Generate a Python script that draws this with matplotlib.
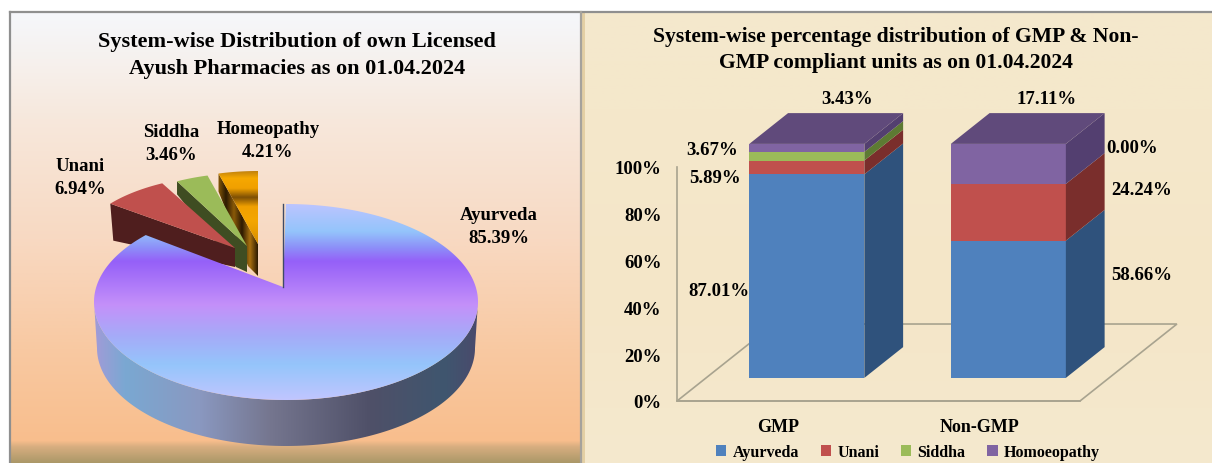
import numpy as np
import matplotlib
matplotlib.use("Agg")
import matplotlib.pyplot as plt
from matplotlib.colors import LinearSegmentedColormap
from matplotlib.patches import Polygon, Patch

plt.rcParams["font.family"] = ["Liberation Serif", "DejaVu Serif"]
plt.rcParams["font.weight"] = "bold"

W, H = 1212, 464

# ─── Data ─────────────────────────────────────────────────────────────────────
pie_labels = ["Ayurveda", "Unani", "Siddha", "Homeopathy"]
pie_values = [85.39, 6.94, 3.46, 4.21]

categories = ["GMP", "Non-GMP"]
systems = ["Ayurveda", "Unani", "Siddha", "Homoeopathy"]
ayurveda = [87.01, 58.66]
unani = [5.89, 24.24]
siddha = [3.67, 0.00]
homoeopathy = [3.43, 17.11]
y_ticks = [0, 20, 40, 60, 80, 100]

# ─── Styles ───────────────────────────────────────────────────────────────────
front_cols = ["#4f81bd", "#c0504d", "#9bbb59", "#8064a2"]
side_cols = ["#2f527c", "#7a2e2c", "#5d7a33", "#533f70"]
top_col = "#604a7b"
line_col = "#a8a38f"


def ramp(stops):
    lo, hi = stops[0][0], stops[-1][0]
    return LinearSegmentedColormap.from_list(
        "r", [((p - lo) / (hi - lo), c) for p, c in stops], N=512)


def gradient(ax, box, stops, vertical=True, clip=None, zorder=1):
    # box = left, right, top, bottom in pixels
    g = np.linspace(0, 1, 512)
    g = g[:, None] if vertical else g[None, :]
    im = ax.imshow(g, cmap=ramp(stops), extent=(box[0], box[1], box[3], box[2]),
                   origin="upper", aspect="auto", zorder=zorder,
                   interpolation="bilinear")
    if clip is not None:
        im.set_clip_path(clip)
    return im


def arc(cx, cy, rx, ry, t1, t2, n=120):
    t = np.radians(np.linspace(t1, t2, n))
    return np.column_stack([cx + rx * np.cos(t), cy - ry * np.sin(t)])


def shape(ax, pts, **kw):
    p = Polygon(pts, closed=True, **kw)
    ax.add_patch(p)
    return p


fig = plt.figure(figsize=(W / 100, H / 100), dpi=100)
bg = fig.add_axes([0, 0, 1, 1])
bg.set_xlim(0, W)
bg.set_ylim(H, 0)
bg.axis("off")

# ─── Panels ───────────────────────────────────────────────────────────────────
panel_stops = [(14, "#f5f7fb"), (60, "#f6f1ee"), (120, "#f7e8dc"), (240, "#f8d9c2"),
               (350, "#f8c9a2"), (442, "#f9be8d"), (448, "#d8ae80"), (464, "#ab9868")]
gradient(bg, (11, 580, 14, 464), panel_stops, zorder=0)
gradient(bg, (585, W, 14, 464),
         [(14, "#f4e8cd"), (110, "#f5e8cb"), (300, "#f4e6c8"), (464, "#f5e9ce")], zorder=0)
bg.fill_between([581, 585], 14, 464, color="#e3cfa4", lw=0, zorder=0.5)
bg.plot([10, W], [13, 13], color="#8f8f8f", lw=1.6, zorder=2)
bg.plot([10, 10], [13, H], color="#8f8f8f", lw=1.6, zorder=2)
bg.plot([581, 581], [13, H], color="#a5a29c", lw=1.6, zorder=2)

bg.text(297, 42, "System-wise Distribution of own Licensed", fontsize=16,
        ha="center", va="center")
bg.text(297, 69, "Ayush Pharmacies as on 01.04.2024", fontsize=16,
        ha="center", va="center")
bg.text(896, 37, "System-wise percentage distribution of GMP & Non-", fontsize=15.6,
        ha="center", va="center")
bg.text(896, 63, "GMP compliant units as on 01.04.2024", fontsize=15.6,
        ha="center", va="center")

# ─── Left: exploded 3D pie ────────────────────────────────────────────────────
shares = np.array(pie_values) / sum(pie_values) * 360
edges = 90 - np.cumsum(np.r_[0, shares])   # clockwise from 12 o'clock

# small slices pulled out of the pie: apex of each top face
apex = {1: (235, 249), 2: (247, 247), 3: (258, 245)}
small_rx = {1: 157, 2: 151, 3: 151}
small_top = {1: "#c0504d", 2: "#9bbb59"}
small_side = {1: "#4f1e1e", 2: "#3f4d22"}
# lower outline of each side face, offsets from the outer corner and from the apex
side_outer = {1: (3, 37), 2: (0, 13), 3: (0, 18)}
side_inner = {1: [(0, 19)], 2: [(-11, 21), (0, 26)], 3: [(-10, 22), (0, 32)]}
homeo_stops = [(172, "#b87c10"), (180, "#f6a800"), (190, "#f0a000"), (199, "#7d4f05"),
               (208, "#f0a000"), (222, "#f4a600"), (232, "#e89c00"), (246, "#d08c05")]
homeo_side = [(218, "#8a5a08"), (226, "#2c1a02"), (234, "#8a5a08"), (242, "#2c1a02"),
              (250, "#a87010"), (258, "#2c1a02")]

for i in (1, 2, 3):
    ax0, ay0 = apex[i]
    rim = arc(ax0, ay0, small_rx[i], 73, edges[i], edges[i + 1], 40)
    first = rim[0]
    side_pts = [first, first + side_outer[i]]
    side_pts += [(ax0 + dx, ay0 + dy) for dx, dy in side_inner[i]]
    side_pts += [(ax0, ay0)]
    if i == 3:
        # orange slice: the banded gradients are clipped to its faces
        side = shape(bg, side_pts, fc="none", lw=0, zorder=3)
        gradient(bg, (218, 258, 170, 280), homeo_side, vertical=False, clip=side, zorder=3)
        top = shape(bg, np.vstack([[(ax0, ay0)], rim]), fc="none", lw=0, zorder=3.1)
        gradient(bg, (215, 260, 172, 246), homeo_stops, clip=top, zorder=3.1)
    else:
        shape(bg, side_pts, fc=small_side[i], lw=0, zorder=3 + i * 0.1 + (3 - i))
        shape(bg, np.vstack([[(ax0, ay0)], rim]), fc=small_top[i], lw=0,
              zorder=3.1 + i * 0.1 + (3 - i))

# main slice, the apex sits above the ellipse centre so the last edge is a ray from it
cx, cy, rx, ry, drop = 286, 303, 192, 98, 46
ap_x, ap_y = 283, 288
tr = np.radians(edges[1])
ts = np.linspace(0, 1.5, 1500)
ray_x = ap_x + ts * rx * np.cos(tr)
ray_y = ap_y - ts * 95 * np.sin(tr)
hit = np.argmin(np.abs(((ray_x - cx) / rx) ** 2 + ((ray_y - cy) / ry) ** 2 - 1))
end_t = np.degrees(np.arctan2((cy - ray_y[hit]) / ry, (ray_x[hit] - cx) / rx))
main_rim = arc(cx, cy, rx, ry, edges[0], end_t - 360, 400)

side_pts = np.vstack([arc(cx, cy, rx, ry, 180, 360, 200),
                      arc(cx, cy + drop, rx - 3, ry, 360, 180, 200)])
side_stops = [(94, "#a29bd8"), (125, "#7aa8d2"), (200, "#8a98c0"), (270, "#75768f"),
              (370, "#4f5068"), (445, "#3f566f"), (478, "#4a4a6c")]
top_stops = [(205, "#bcc4ff"), (232, "#94c5fb"), (248, "#8d90f8"), (262, "#9560f8"),
             (305, "#c490fa"), (335, "#a6aaf8"), (365, "#95c5fb"), (401, "#c2c6ff")]
p = shape(bg, side_pts, fc="none", lw=0, zorder=7)
gradient(bg, (94, 478, 300, 450), side_stops, vertical=False, clip=p, zorder=7)
p = shape(bg, np.vstack([[(ap_x, ap_y)], main_rim]), fc="none", lw=0, zorder=7.5)
gradient(bg, (90, 482, 205, 402), top_stops, clip=p, zorder=7.5)
bg.plot([ap_x, ap_x], [205, ap_y], color="#3e4a66", lw=1, zorder=7.6)

# labels
pie_label_pos = [(499, 216), (80, 167), (171, 133), (268, 130)]
for name, val, (px, py) in zip(pie_labels, pie_values, pie_label_pos):
    bg.text(px, py, name, fontsize=13.5, ha="center", va="center", zorder=9)
    bg.text(px, py + 23, f"{val:.2f}%", fontsize=13.5, ha="center", va="center", zorder=9)

# ─── Right: 3D stacked columns ────────────────────────────────────────────────
# axes spans the front edge of the floor, 677-1080 px and 100%-0% = 168-402 px
ax = fig.add_axes([677 / W, (H - 402) / H, (1080 - 677) / W, (402 - 168) / H])
ax.patch.set_alpha(0)
ax.set_xlim(-0.5, 1.5)
ax.set_ylim(0, 100)

floor_dx, floor_dy = 0.481, 32.9   # back corner of the floor in axis units
bar_w = 0.571
d_front, d_back = 0.3, 0.7


def proj(x, y, d):
    return (x + d * floor_dx, y + d * floor_dy)


floor = [proj(-0.5, 0, 0), proj(1.5, 0, 0), proj(1.5, 0, 1), proj(-0.5, 0, 1)]
ax.add_patch(Polygon(floor, closed=True, fc="none", ec=line_col, lw=1.2, clip_on=False, zorder=1))

series = np.array([ayurveda, unani, siddha, homoeopathy])
series = series / series.sum(axis=0) * 100
for c in range(len(categories)):
    x0, x1 = c - bar_w / 2, c + bar_w / 2
    base = 0
    for s in range(len(systems)):
        top = base + series[s, c]
        if series[s, c] > 0:
            ax.add_patch(Polygon([proj(x0, base, d_front), proj(x1, base, d_front),
                                  proj(x1, top, d_front), proj(x0, top, d_front)],
                                 fc=front_cols[s], lw=0, clip_on=False, zorder=3))
            ax.add_patch(Polygon([proj(x1, base, d_front), proj(x1, base, d_back),
                                  proj(x1, top, d_back), proj(x1, top, d_front)],
                                 fc=side_cols[s], lw=0, clip_on=False, zorder=3))
        base = top
    ax.add_patch(Polygon([proj(x0, base, d_front), proj(x1, base, d_front),
                          proj(x1, base, d_back), proj(x0, base, d_back)],
                         fc=top_col, lw=0, clip_on=False, zorder=3))

for name in ("top", "right"):
    ax.spines[name].set_visible(False)
ax.spines["left"].set_color(line_col)
ax.spines["bottom"].set_color(line_col)
ax.spines["left"].set_linewidth(1.2)
ax.spines["bottom"].set_linewidth(1.2)
ax.set_xticks(range(len(categories)), categories, fontsize=13)
ax.set_yticks(y_ticks, [f"{v}%" for v in y_ticks], fontsize=13.5)
ax.tick_params(length=0)
ax.tick_params(axis="x", pad=12)
ax.tick_params(axis="y", pad=11)

# value labels sit beside the columns, pixel spots
value_pos = {
    (0, 0): (719, 292), (0, 1): (715, 179), (0, 2): (712, 151), (0, 3): (847, 100),
    (1, 0): (1142, 276), (1, 1): (1142, 191), (1, 2): (1132, 149), (1, 3): (1047, 99),
}
raw = [ayurveda, unani, siddha, homoeopathy]
for (c, s), (px, py) in value_pos.items():
    bg.text(px, py, f"{raw[s][c]:.2f}%", fontsize=13.5, ha="center", va="center", zorder=9)

handles = [Patch(fc=col, lw=0, label=name) for col, name in zip(front_cols, systems)]
fig.legend(handles=handles, loc="center", bbox_to_anchor=(908 / W, 1 - 453 / H), ncol=4,
           frameon=False, fontsize=11.5, handlelength=0.65, handleheight=0.65,
           handletextpad=0.4, columnspacing=1.35, borderpad=0)

fig.savefig("out.png", dpi=100)
